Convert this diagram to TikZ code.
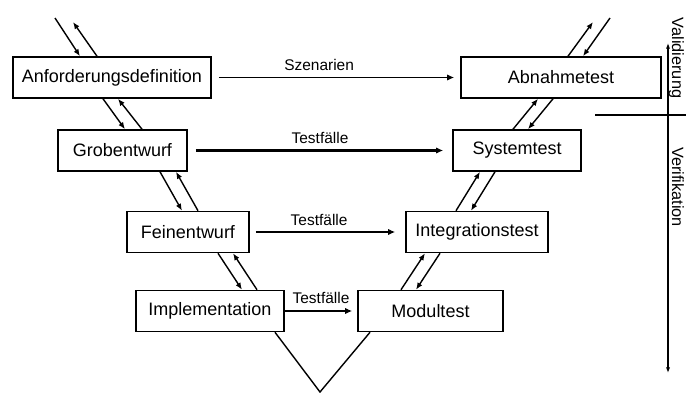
\documentclass[tikz,border=0pt]{standalone}
\usepackage{fontspec}
\setmainfont{Liberation Sans}
\usetikzlibrary{arrows.meta, positioning}
\tikzset{phase/.style={draw,line width=1.1pt,minimum height=1.025cm,inner sep=0pt,font=\fontsize{12.8}{15}\selectfont},
         testflow/.style={-{Latex[length=5pt,width=4.5pt]},line width=1.1pt},
         handover/.style={-{Latex[length=5pt,width=4pt]},line width=1pt},
         flowlabel/.style={above=4pt,inner sep=0pt,font=\fontsize{11}{13}\selectfont},
         sidelabel/.style={rotate=-90,anchor=base,inner sep=0pt,font=\fontsize{11.6}{14}\selectfont}}

\begin{document}
\begin{tikzpicture}
        \useasboundingbox(0,0)rectangle(17.15,9.8);

        \node[phase, minimum width=4.95cm](anf)at(2.8,7.8625){Anforderungsdefinition};
        \node[phase, minimum width=3.225cm](grob)at(3.0625,6.0375){Grobentwurf};
        \node[phase, minimum width=3.05cm](fein)at(4.7,4.0){Feinentwurf};
        \node[phase, minimum width=3.7cm](impl)at(5.25,2.025){Implementation};
        \node[phase, minimum width=3.625cm](modul)at(10.7625,2.025){Modultest};
        \node[phase, minimum width=3.55cm](integ)at(11.925,4.0){Integrationstest};
        \node[phase, minimum width=3.2cm](sys)at(12.925,6.0375){Systemtest};
        \node[phase, minimum width=5cm](abn)at(14.025,7.8625){Abnahmetest};

        \draw[testflow, shorten <=0.175cm, shorten >=0.15cm](anf)--(abn)node[flowlabel, pos=0.432](szen){Szenarien};
        \draw[testflow, line width=1.8pt, shorten <=0.2cm, shorten >=0.225cm](grob)--(sys)node[flowlabel, midway](tf2){Testfälle};
        \draw[testflow, shorten <=0.15cm, shorten >=0.25cm](fein)--(integ)node[flowlabel, pos=0.446](tf3){Testfälle};
        \draw[testflow, line width=1.8pt, shorten >=0.125cm](impl)--(modul)node[flowlabel, midway](tf4){Testfälle};

        \coordinate(anfin)at(1.375,9.35);
        \coordinate(anfout)at(1.825,9.25);
        \coordinate(vtip)at(8.0,0);
        \coordinate(abnout)at(14.825,9.25);
        \coordinate(abnin)at(15.25,9.35);

        \draw[handover](anfin)--([xshift=-8mm]anf.north);
        \draw[handover]([xshift=-3.75mm]anf.north)--(anfout);
        \draw[handover]([xshift=-2.25mm]anf.south)--([xshift=0.625mm]grob.north);
        \draw[handover]([xshift=4.875mm]grob.north)--([xshift=1.5mm]anf.south);
        \draw[handover]([xshift=9.375mm]grob.south)--([xshift=-1.5mm]fein.north);
        \draw[handover]([xshift=2.5mm]fein.north)--([xshift=13.375mm]grob.south);
        \draw[handover]([xshift=7.5mm]fein.south)--([xshift=8mm]impl.north);
        \draw[handover]([xshift=11.75mm]impl.north)--([xshift=11.25mm]fein.south);

        \draw[line width=1pt]([xshift=16.25mm]impl.south)--(vtip)--([xshift=-15.125mm]modul.south);

        \draw[handover]([xshift=-7.375mm]modul.north)--([xshift=-13mm]integ.south);
        \draw[handover]([xshift=-9.25mm]integ.south)--([xshift=-3.625mm]modul.north);
        \draw[handover]([xshift=-5.25mm]integ.north)--([xshift=-9.25mm]sys.south);
        \draw[handover]([xshift=-5.5mm]sys.south)--([xshift=-1.5mm]integ.north);
        \draw[handover]([xshift=-1mm]sys.north)--([xshift=-5.75mm]abn.south);
        \draw[handover]([xshift=-2mm]abn.south)--([xshift=2.75mm]sys.north);
        \draw[handover]([xshift=1.75mm]abn.north)--(abnout);
        \draw[handover](abnin)--([xshift=5.5mm]abn.north);

        \coordinate(valtop)at(16.7,8.725);
        \coordinate(verbot)at(16.7,0.475);
        \coordinate(divl)at(14.875,6.925);
        \coordinate(divr)at(17.15,6.925);
        \draw[{Latex[length=4pt,width=3pt]}-{Latex[length=4pt,width=3pt]}, line width=1pt](valtop)--(verbot);
        \draw[line width=1pt](divl)--(divr);

        \node[sidelabel](val)at(16.8,8.35){Validierung};
        \node[sidelabel](ver)at(16.8,5.125){Verifikation};
    \end{tikzpicture}
\end{document}
